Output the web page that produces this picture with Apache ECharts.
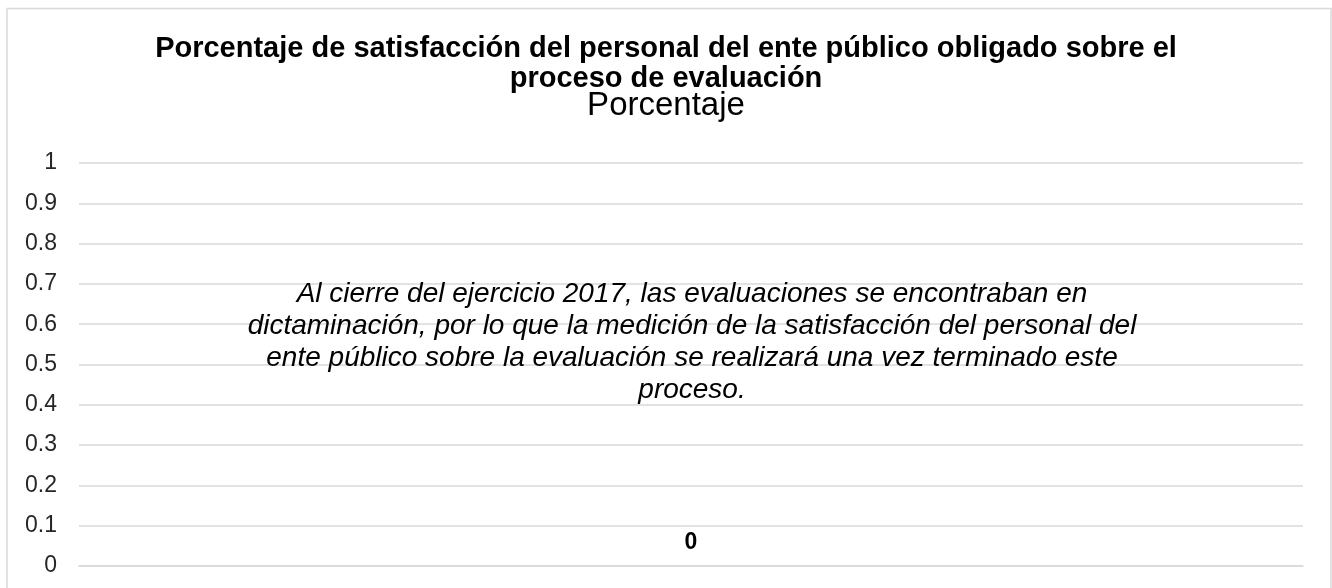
<html>
<head>
<meta charset="utf-8">
<title>Porcentaje de satisfacción</title>
<script src="https://cdn.jsdelivr.net/npm/echarts@6/dist/echarts.min.js"></script>
<style>
	body { margin: 0; background: #fff; }
	#chart { width: 1332px; height: 588px; }
</style>
</head>
<body>
<div id="chart"></div>
<script>
// datos del gráfico
var categorias = [''];
var valores = [0];
var yMin = 0, yMax = 1, yPaso = 0.1;

var titulo = 'Porcentaje de satisfacción del personal del ente público obligado sobre el\nproceso de evaluación';
var subtitulo = 'Porcentaje';
var nota = 'Al cierre del ejercicio 2017, las evaluaciones se encontraban en\n' +
	'dictaminación, por lo que la medición de la satisfacción del personal del\n' +
	'ente público sobre la evaluación se realizará una vez terminado este\n' +
	'proceso.';

var FUENTE = '"Liberation Sans", Arial, sans-serif';

var myChart = echarts.init(document.getElementById('chart'));

var option = {
	backgroundColor: '#fff',
	animation: false,
	title: [
		{
			text: titulo,
			left: 'center',
			top: 34,
			padding: 0,
			textStyle: { fontFamily: FUENTE, fontSize: 29, fontWeight: 'bold', color: '#000', lineHeight: 30 }
		},
		{
			text: subtitulo,
			left: 'center',
			top: 89,
			padding: 0,
			textStyle: { fontFamily: FUENTE, fontSize: 33, fontWeight: 'normal', color: '#000', lineHeight: 33 }
		}
	],
	grid: { left: 79, right: 29, top: 163, bottom: 22, containLabel: false },
	xAxis: {
		type: 'category',
		data: categorias,
		axisLine: { show: true, lineStyle: { color: '#d9d9d9', width: 1.5 } },
		axisTick: { show: false },
		axisLabel: { show: false }
	},
	yAxis: {
		type: 'value',
		min: yMin,
		max: yMax,
		interval: yPaso,
		axisLine: { show: false },
		axisTick: { show: false },
		axisLabel: { fontFamily: FUENTE, fontSize: 23, color: '#262626', margin: 22 },
		splitLine: { lineStyle: { color: '#d9d9d9', width: 1.5 } }
	},
	series: [
		{
			type: 'bar',
			data: valores,
			barWidth: '60%',
			itemStyle: { color: '#4472c4' },
			label: {
				show: true,
				position: 'top',
				distance: 12,
				fontFamily: FUENTE,
				fontSize: 23,
				fontWeight: 'bold',
				color: '#000'
			}
		}
	],
	graphic: [
		{
			type: 'rect',
			silent: true,
			shape: { x: 7, y: 8.5, width: 1324, height: 600 },
			style: { fill: 'none', stroke: '#d9d9d9', lineWidth: 1.5 },
			z: 100
		},
		{
			type: 'text',
			silent: true,
			x: 692,
			y: 342,
			style: {
				text: nota,
				fontFamily: FUENTE,
				fontSize: 28,
				fontStyle: 'italic',
				fill: '#000',
				lineHeight: 32,
				textAlign: 'center',
				textVerticalAlign: 'middle'
			},
			z: 100
		}
	]
};

myChart.setOption(option);
</script>
</body>
</html>
